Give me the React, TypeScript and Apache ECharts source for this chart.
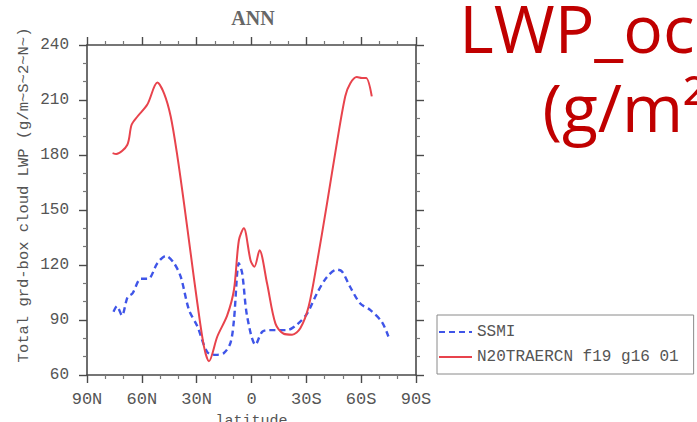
import React, { useEffect, useRef } from "react";
import * as echarts from "echarts";

// Zonal-mean annual liquid water path over ocean, by latitude (+ = N, - = S)
const ssmiLat = [75.5, 73.6, 70.9, 67.8, 65.1, 60.5, 56.5, 51.5, 46.9, 42.4, 38.7, 34.2, 29.6, 24.2, 19.6, 15.1, 11.5, 9.6, 6.9, 5.1, 2.4, -2.2, -5.8, -9.5, -14, -19.5, -24.9, -30.4, -35.8, -41.3, -46.7, -49.5, -54, -59.5, -64.9, -71.3, -74.9];
const ssmiLwp = [94.5, 97.5, 92.5, 102.5, 104.5, 112.5, 112.5, 121, 125, 121, 113.5, 95.5, 86.5, 72.5, 71, 72, 77.5, 90, 121, 115.5, 92, 76.5, 83.5, 84.5, 84.5, 84.5, 87.5, 93.5, 104.5, 113.5, 117.5, 116.5, 108, 99, 95.5, 89, 81];

const modelLat = [76, 74, 68, 65.6, 62.4, 57, 51.5, 47.8, 44.2, 40.5, 36.9, 33.3, 29.6, 26, 23.3, 18.7, 13.3, 9.6, 6.9, 4.2, 0.5, -1.6, -4.4, -8.5, -13.1, -17.6, -22.2, -26.7, -31.3, -35.8, -41.3, -46.7, -51.3, -54, -57.6, -60.4, -62.7, -65.8];
const modelLwp = [181, 180.5, 185.5, 196.5, 201, 207.5, 219.5, 213.5, 201, 179, 153.5, 126.5, 99, 75.5, 67.5, 81, 92.5, 106.5, 133.5, 140, 122.5, 119, 128, 110, 88, 82.5, 82, 85.5, 97.5, 121, 153.5, 186.5, 212, 219, 222.5, 222, 222, 212];

const seriesNames = ["SSMI", "N20TRAERCN f19 g16 01"];
const yTitle = "Total grd-box cloud LWP (g/m~S~2~N~)";
const xTitle = "latitude";
const plotTitle = "ANN";
const headline = "LWP_ocean\n(g/m\u00b2)";

const tickFont = "Liberation Mono";
const inkColor = "#4a4a4a";

function latLabel(v: number): string {
  if (v === 0) return "0";
  return v > 0 ? `${v}N` : `${-v}S`;
}

function frameAxis(extra: any) {
  return {
    type: "value",
    axisLine: { show: true, onZero: false, lineStyle: { color: inkColor, width: 1.6 } },
    axisTick: { show: true, inside: false, length: 8, lineStyle: { color: inkColor, width: 1.4 } },
    minorTick: { show: true, splitNumber: 3, length: 4, lineStyle: { color: "#777", width: 1.2 } },
    splitLine: { show: false },
    ...extra,
  };
}

export default function App() {
  const ref = useRef<HTMLDivElement>(null);

  useEffect(() => {
    if (!ref.current) return;
    const chart = echarts.init(ref.current, undefined, { renderer: "svg" });

    const labelStyle = { fontFamily: tickFont, fontSize: 16, color: "#555" };
    const xCommon = { min: -90, max: 90, interval: 30, inverse: true };
    const yCommon = { min: 60, max: 240, interval: 30 };

    chart.setOption({
      animation: false,
      backgroundColor: "#ffffff",
      grid: {
        left: 87,
        top: 45,
        width: 329,
        height: 330,
        containLabel: false,
        outerBoundsMode: "none",
      },
      xAxis: [
        frameAxis({
          ...xCommon,
          position: "bottom",
          axisLabel: { ...labelStyle, fontSize: 17, margin: 16, formatter: latLabel },
          name: xTitle,
          nameLocation: "middle",
          nameGap: 39,
          nameTextStyle: { fontFamily: tickFont, fontSize: 15, color: "#555" },
        }),
        frameAxis({ ...xCommon, position: "top", axisLabel: { show: false } }),
      ],
      yAxis: [
        frameAxis({
          ...yCommon,
          position: "left",
          axisLabel: { ...labelStyle, margin: 18 },
        }),
        frameAxis({ ...yCommon, position: "right", axisLabel: { show: false } }),
      ],
      legend: {
        data: seriesNames,
        orient: "vertical",
        left: 437,
        top: 315,
        padding: [9, 15, 9, 1],
        itemWidth: 33,
        itemHeight: 14,
        itemGap: 9,
        borderColor: "#8a8a8a",
        borderWidth: 1,
        itemStyle: { opacity: 0 },
        textStyle: { fontFamily: tickFont, fontSize: 16, color: "#555" },
      },
      graphic: [
        {
          type: "text",
          x: 253,
          y: 18,
          style: {
            text: plotTitle,
            fontFamily: "Liberation Serif",
            fontSize: 20,
            fontWeight: "bold",
            fill: "#666",
            align: "center",
            verticalAlign: "middle",
          },
        },
        {
          type: "text",
          x: 24,
          y: 195,
          rotation: Math.PI / 2,
          style: {
            text: yTitle,
            fontFamily: tickFont,
            fontSize: 15.5,
            fill: "#555",
            align: "center",
            verticalAlign: "middle",
          },
        },
        {
          type: "text",
          x: 634,
          y: 66.5,
          style: {
            text: headline,
            fontFamily: "Open Sans",
            fontSize: 66,
            lineHeight: 79,
            fill: "#c00000",
            align: "center",
            verticalAlign: "middle",
          },
        },
      ],
      series: [
        {
          name: seriesNames[0],
          type: "line",
          xAxisIndex: 0,
          yAxisIndex: 0,
          data: ssmiLat.map((lat, i) => [lat, ssmiLwp[i]]),
          symbol: "none",
          smooth: 0.3,
          lineStyle: { color: "#3f55e8", width: 2.4, type: [6, 4] },
          itemStyle: { color: "#3f55e8" },
        },
        {
          name: seriesNames[1],
          type: "line",
          xAxisIndex: 0,
          yAxisIndex: 0,
          data: modelLat.map((lat, i) => [lat, modelLwp[i]]),
          symbol: "none",
          smooth: 0.3,
          lineStyle: { color: "#e8434c", width: 2 },
          itemStyle: { color: "#e8434c" },
        },
      ],
    });

    return () => chart.dispose();
  }, []);

  return (
    <div
      ref={ref}
      style={{ position: "fixed", left: 0, top: 0, width: 697, height: 422, background: "#fff" }}
    />
  );
}
